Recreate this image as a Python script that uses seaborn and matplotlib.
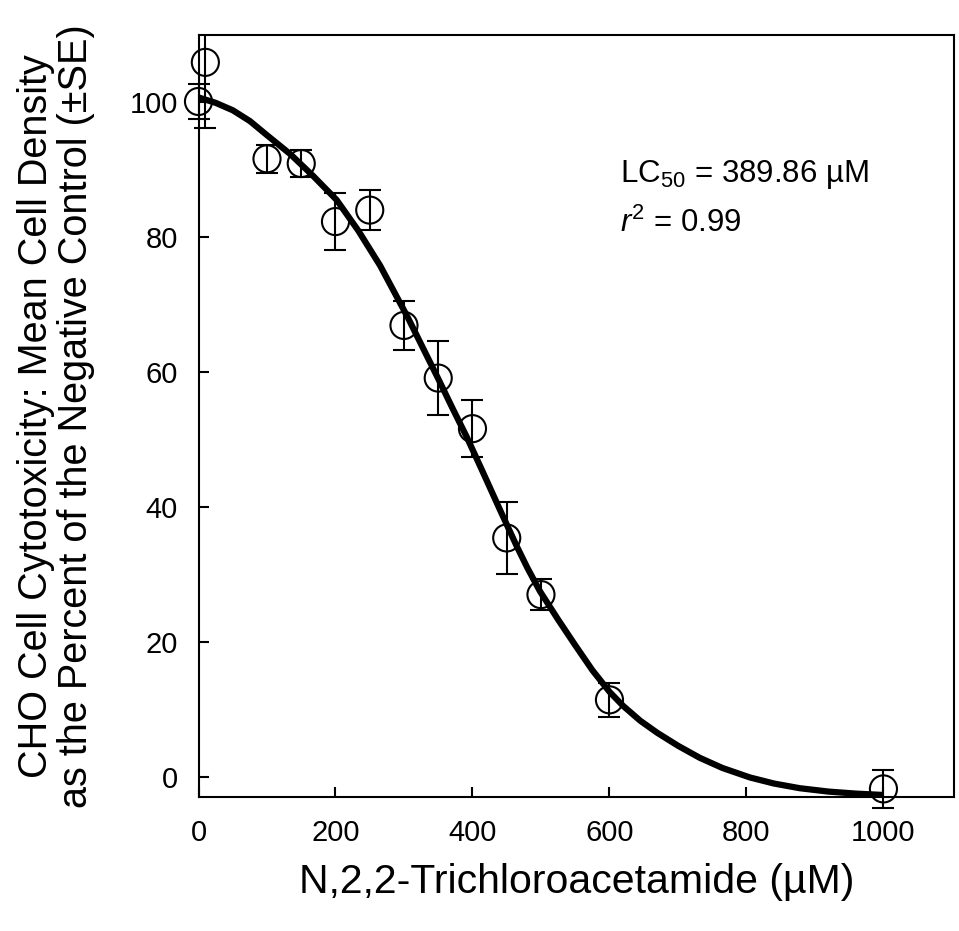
import numpy as np
import pandas as pd
import matplotlib
matplotlib.use("Agg")
import matplotlib.pyplot as plt
from matplotlib.patches import Rectangle
import seaborn as sns

# ---- data ----
conc = [0, 10, 100, 150, 200, 250, 300, 350, 400, 450, 500, 600, 1000]
mean_pct = [100.1, 105.9, 91.6, 90.9, 82.3, 84.0, 66.9, 59.1, 51.6, 35.4, 27.0, 11.4, -1.8]
se_pct = [2.6, 9.8, 2.1, 2.0, 4.2, 3.0, 3.6, 5.5, 4.2, 5.4, 2.3, 2.5, 2.8]

# fitted curve, points
curve_x = [0, 25, 50, 75, 100, 134, 168, 201.7, 233, 265, 285, 306, 328, 350, 370,
           391.5, 415, 440, 464.5, 480, 498.5, 525, 550, 575, 600, 620, 645, 670,
           700, 732, 765, 805, 840, 878, 920, 960, 1000]
curve_y = [100.7, 99.9, 98.8, 97.2, 95.1, 92.3, 89.0, 85.5, 81.0, 75.8, 72.0, 68.0,
           63.5, 59.0, 54.8, 50.4, 45.2, 39.6, 34.2, 31.0, 27.5, 23.3, 19.5, 15.8,
           12.6, 10.5, 8.3, 6.5, 4.6, 2.8, 1.3, -0.1, -1.0, -1.7, -2.2, -2.5, -2.7]

x_ticks = [0, 200, 400, 600, 800, 1000]
y_ticks = [0, 20, 40, 60, 80, 100]

lc50_text = "LC$_{50}$ = 389.86 µM"
r2_text = "$\\mathit{r}^{2}$ = 0.99"

sns.set_theme(style="white")
plt.rcParams["font.family"] = ["Liberation Sans", "DejaVu Sans"]
plt.rcParams["mathtext.fontset"] = "custom"
plt.rcParams["mathtext.rm"] = "Liberation Sans"
plt.rcParams["mathtext.it"] = "Liberation Sans:italic"

fig = plt.figure(figsize=(9.59, 9.31), dpi=100)
ax = fig.add_axes([198.5 / 959, 1 - 797 / 931, (954 - 198.5) / 959, (797 - 34.7) / 931])

df_pts = pd.DataFrame({"conc": conc, "mean": mean_pct, "se": se_pct})
df_curve = pd.DataFrame({"x": curve_x, "y": curve_y})

# error bars (clipped only at the top/right like the reference)
eb = ax.errorbar(df_pts["conc"], df_pts["mean"], yerr=df_pts["se"], fmt="none",
                 ecolor="black", elinewidth=1.5, capsize=8, capthick=1.5, zorder=2)
clip_rect = Rectangle((-0.2, -0.2), 1.2, 1.2, transform=ax.transAxes, visible=False)
ax.add_patch(clip_rect)

sns.lineplot(data=df_curve, x="x", y="y", ax=ax, color="black", linewidth=4.5,
             sort=False, estimator=None, zorder=3)
ax.lines[-1].set_solid_capstyle("butt")

sns.scatterplot(data=df_pts, x="conc", y="mean", ax=ax, s=19.5 ** 2, marker="o",
                facecolor="none", edgecolor="black", linewidth=1.5, zorder=4)
for coll in ax.collections:
    coll.set_clip_on(False)
for art in list(eb.lines[1]) + list(eb.lines[2]):
    art.set_clip_on(True)
    art.set_clip_path(clip_rect)

ax.set_xlim(0, 1103)
ax.set_ylim(-3, 110)
ax.set_xticks(x_ticks)
ax.set_yticks(y_ticks)
ax.tick_params(axis="both", direction="in", length=7, width=1.5, labelsize=21,
               color="black", labelcolor="black", bottom=True, left=True,
               top=False, right=False)
ax.tick_params(axis="x", pad=16)
ax.tick_params(axis="y", pad=15)
for sp in ax.spines.values():
    sp.set_linewidth(1.5)
    sp.set_color("black")

ax.set_xlabel("N,2,2-Trichloroacetamide (µM)", fontsize=29.5, color="black")
ax.xaxis.set_label_coords(0.5, -(882 - 797) / 762.3)
ax.xaxis.label.set_va("center")

ax.set_ylabel("CHO Cell Cytotoxicity: Mean Cell Density\nas the Percent of the Negative Control (±SE)",
              fontsize=28.5, color="black", linespacing=1.08)
ax.yaxis.set_label_coords((56 - 198.5) / 755.5, 0.5)
ax.yaxis.label.set_va("center")

ax.text(615, 88.2, lc50_text, fontsize=22.5, color="black", va="baseline")
ax.text(615, 80.8, r2_text, fontsize=22.5, color="black", va="baseline")

fig.savefig("out.png", dpi=100)
